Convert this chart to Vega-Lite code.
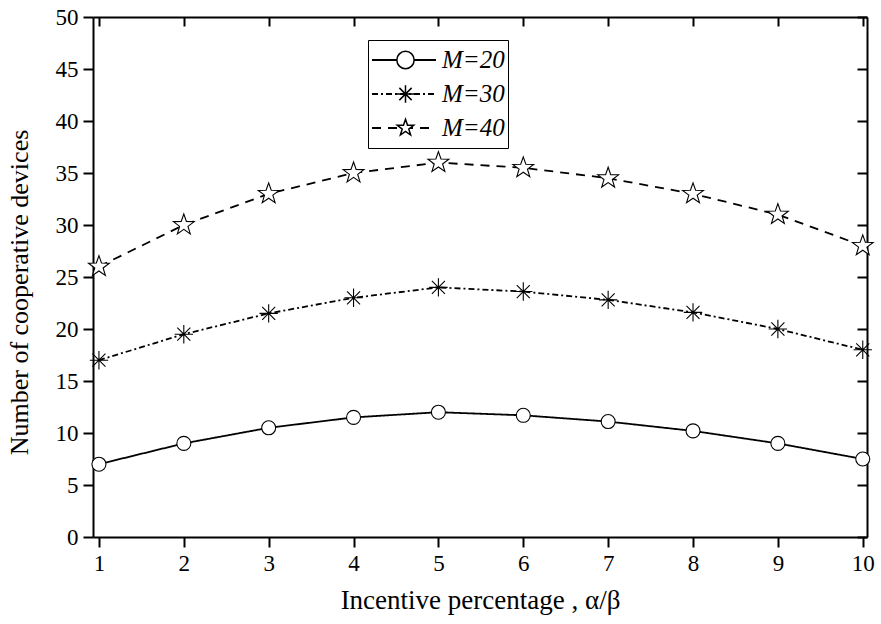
{
  "$schema": "https://vega.github.io/schema/vega-lite/v6.json",
  "width": 774,
  "height": 520,
  "autosize": {"type": "none"},
  "padding": {"left": 93, "top": 17, "right": 14, "bottom": 87},
  "background": "white",
  "config": {
    "view": {"stroke": null},
    "font": "Liberation Serif",
    "axis": {
      "grid": false,
      "domainColor": "black",
      "domainWidth": 2,
      "tickColor": "black",
      "tickWidth": 2,
      "labelFont": "Liberation Serif",
      "labelFontSize": 23,
      "labelColor": "black",
      "titleFont": "Liberation Serif",
      "titleFontSize": 26,
      "titleFontWeight": "normal",
      "titleColor": "black"
    }
  },
  "data": {
    "values": [
      {"alpha": 1, "devices": 7, "M": "M=20"},
      {"alpha": 2, "devices": 9, "M": "M=20"},
      {"alpha": 3, "devices": 10.5, "M": "M=20"},
      {"alpha": 4, "devices": 11.5, "M": "M=20"},
      {"alpha": 5, "devices": 12, "M": "M=20"},
      {"alpha": 6, "devices": 11.7, "M": "M=20"},
      {"alpha": 7, "devices": 11.1, "M": "M=20"},
      {"alpha": 8, "devices": 10.2, "M": "M=20"},
      {"alpha": 9, "devices": 9, "M": "M=20"},
      {"alpha": 10, "devices": 7.5, "M": "M=20"},
      {"alpha": 1, "devices": 17, "M": "M=30"},
      {"alpha": 2, "devices": 19.5, "M": "M=30"},
      {"alpha": 3, "devices": 21.5, "M": "M=30"},
      {"alpha": 4, "devices": 23, "M": "M=30"},
      {"alpha": 5, "devices": 24, "M": "M=30"},
      {"alpha": 6, "devices": 23.6, "M": "M=30"},
      {"alpha": 7, "devices": 22.8, "M": "M=30"},
      {"alpha": 8, "devices": 21.6, "M": "M=30"},
      {"alpha": 9, "devices": 20, "M": "M=30"},
      {"alpha": 10, "devices": 18, "M": "M=30"},
      {"alpha": 1, "devices": 26, "M": "M=40"},
      {"alpha": 2, "devices": 30, "M": "M=40"},
      {"alpha": 3, "devices": 33, "M": "M=40"},
      {"alpha": 4, "devices": 35, "M": "M=40"},
      {"alpha": 5, "devices": 36, "M": "M=40"},
      {"alpha": 6, "devices": 35.5, "M": "M=40"},
      {"alpha": 7, "devices": 34.5, "M": "M=40"},
      {"alpha": 8, "devices": 33, "M": "M=40"},
      {"alpha": 9, "devices": 31, "M": "M=40"},
      {"alpha": 10, "devices": 28, "M": "M=40"}
    ]
  },
  "layer": [
    {
      "mark": {"type": "line", "strokeWidth": 1.8, "color": "black"},
      "encoding": {
        "x": {
          "field": "alpha", "type": "quantitative",
          "scale": {"domain": [0.93, 10.05], "nice": false, "zero": false},
          "axis": {"orient": "bottom", "values": [1,2,3,4,5,6,7,8,9,10], "tickSize": 10, "labelPadding": 5, "title": "Incentive percentage , α/β", "titleFontSize": 27, "titlePadding": 12}
        },
        "y": {
          "field": "devices", "type": "quantitative",
          "scale": {"domain": [0, 50], "nice": false, "zero": true},
          "axis": {"orient": "left", "values": [0,5,10,15,20,25,30,35,40,45,50], "tickSize": 10, "labelPadding": 5, "title": "Number of cooperative devices", "titleBaseline": "middle", "titleX": -74, "titleY": 275}
        },
        "strokeDash": {
          "field": "M", "type": "nominal",
          "scale": {"range": [[1, 0], [6, 3, 2, 3], [9, 7]]},
          "legend": {
            "orient": "none", "legendX": 275, "legendY": 23,
            "title": null, "symbolType": "stroke", "symbolSize": 4096,
            "symbolStrokeColor": "black", "symbolStrokeWidth": 1.8,
            "labelFont": "Liberation Serif", "labelFontStyle": "italic", "labelFontSize": 25, "labelColor": "black",
            "labelOffset": 5, "labelExpr": "datum.label + '  '",
            "strokeColor": "black", "padding": 3, "clipHeight": 34, "rowPadding": 0
          }
        }
      }
    },
    {
      "mark": {"type": "point", "filled": true, "fill": "white", "stroke": "black", "strokeWidth": 1.1, "opacity": 1},
      "encoding": {
        "x": {
          "field": "alpha", "type": "quantitative",
          "axis": {"orient": "top", "values": [1,2,3,4,5,6,7,8,9,10], "tickSize": -9, "labels": false, "title": null}
        },
        "y": {
          "field": "devices", "type": "quantitative",
          "axis": {"orient": "right", "values": [0,5,10,15,20,25,30,35,40,45,50], "tickSize": -10, "labels": false, "title": null}
        },
        "shape": {
          "field": "M", "type": "nominal",
          "scale": {
            "domain": ["M=20", "M=30", "M=40"],
            "range": [
              "circle",
              "M-1,0L1,0M0,-1L0,1M-0.71,-0.71L0.71,0.71M-0.71,0.71L0.71,-0.71",
              "M0,-1L0.235,-0.324L0.951,-0.309L0.380,0.124L0.588,0.809L0,0.4L-0.588,0.809L-0.380,0.124L-0.951,-0.309L-0.235,-0.324Z"
            ]
          },
          "legend": {
            "orient": "none", "legendX": 275, "legendY": 23,
            "title": null, "symbolSize": 300,
            "labelFontSize": 25, "labelExpr": "''",
            "symbolOffset": 22, "padding": 3, "clipHeight": 34, "rowPadding": 0,
            "encode": {
              "symbols": {
                "update": {
                  "fill": {"value": "white"},
                  "stroke": {"value": "black"},
                  "strokeWidth": {"value": 1.1},
                  "opacity": {"value": 1}
                }
              }
            }
          }
        },
        "size": {
          "field": "M", "type": "ordinal",
          "scale": {"range": [196, 480, 380]},
          "legend": null
        }
      }
    }
  ],
  "resolve": {"axis": {"x": "independent", "y": "independent"}}
}
